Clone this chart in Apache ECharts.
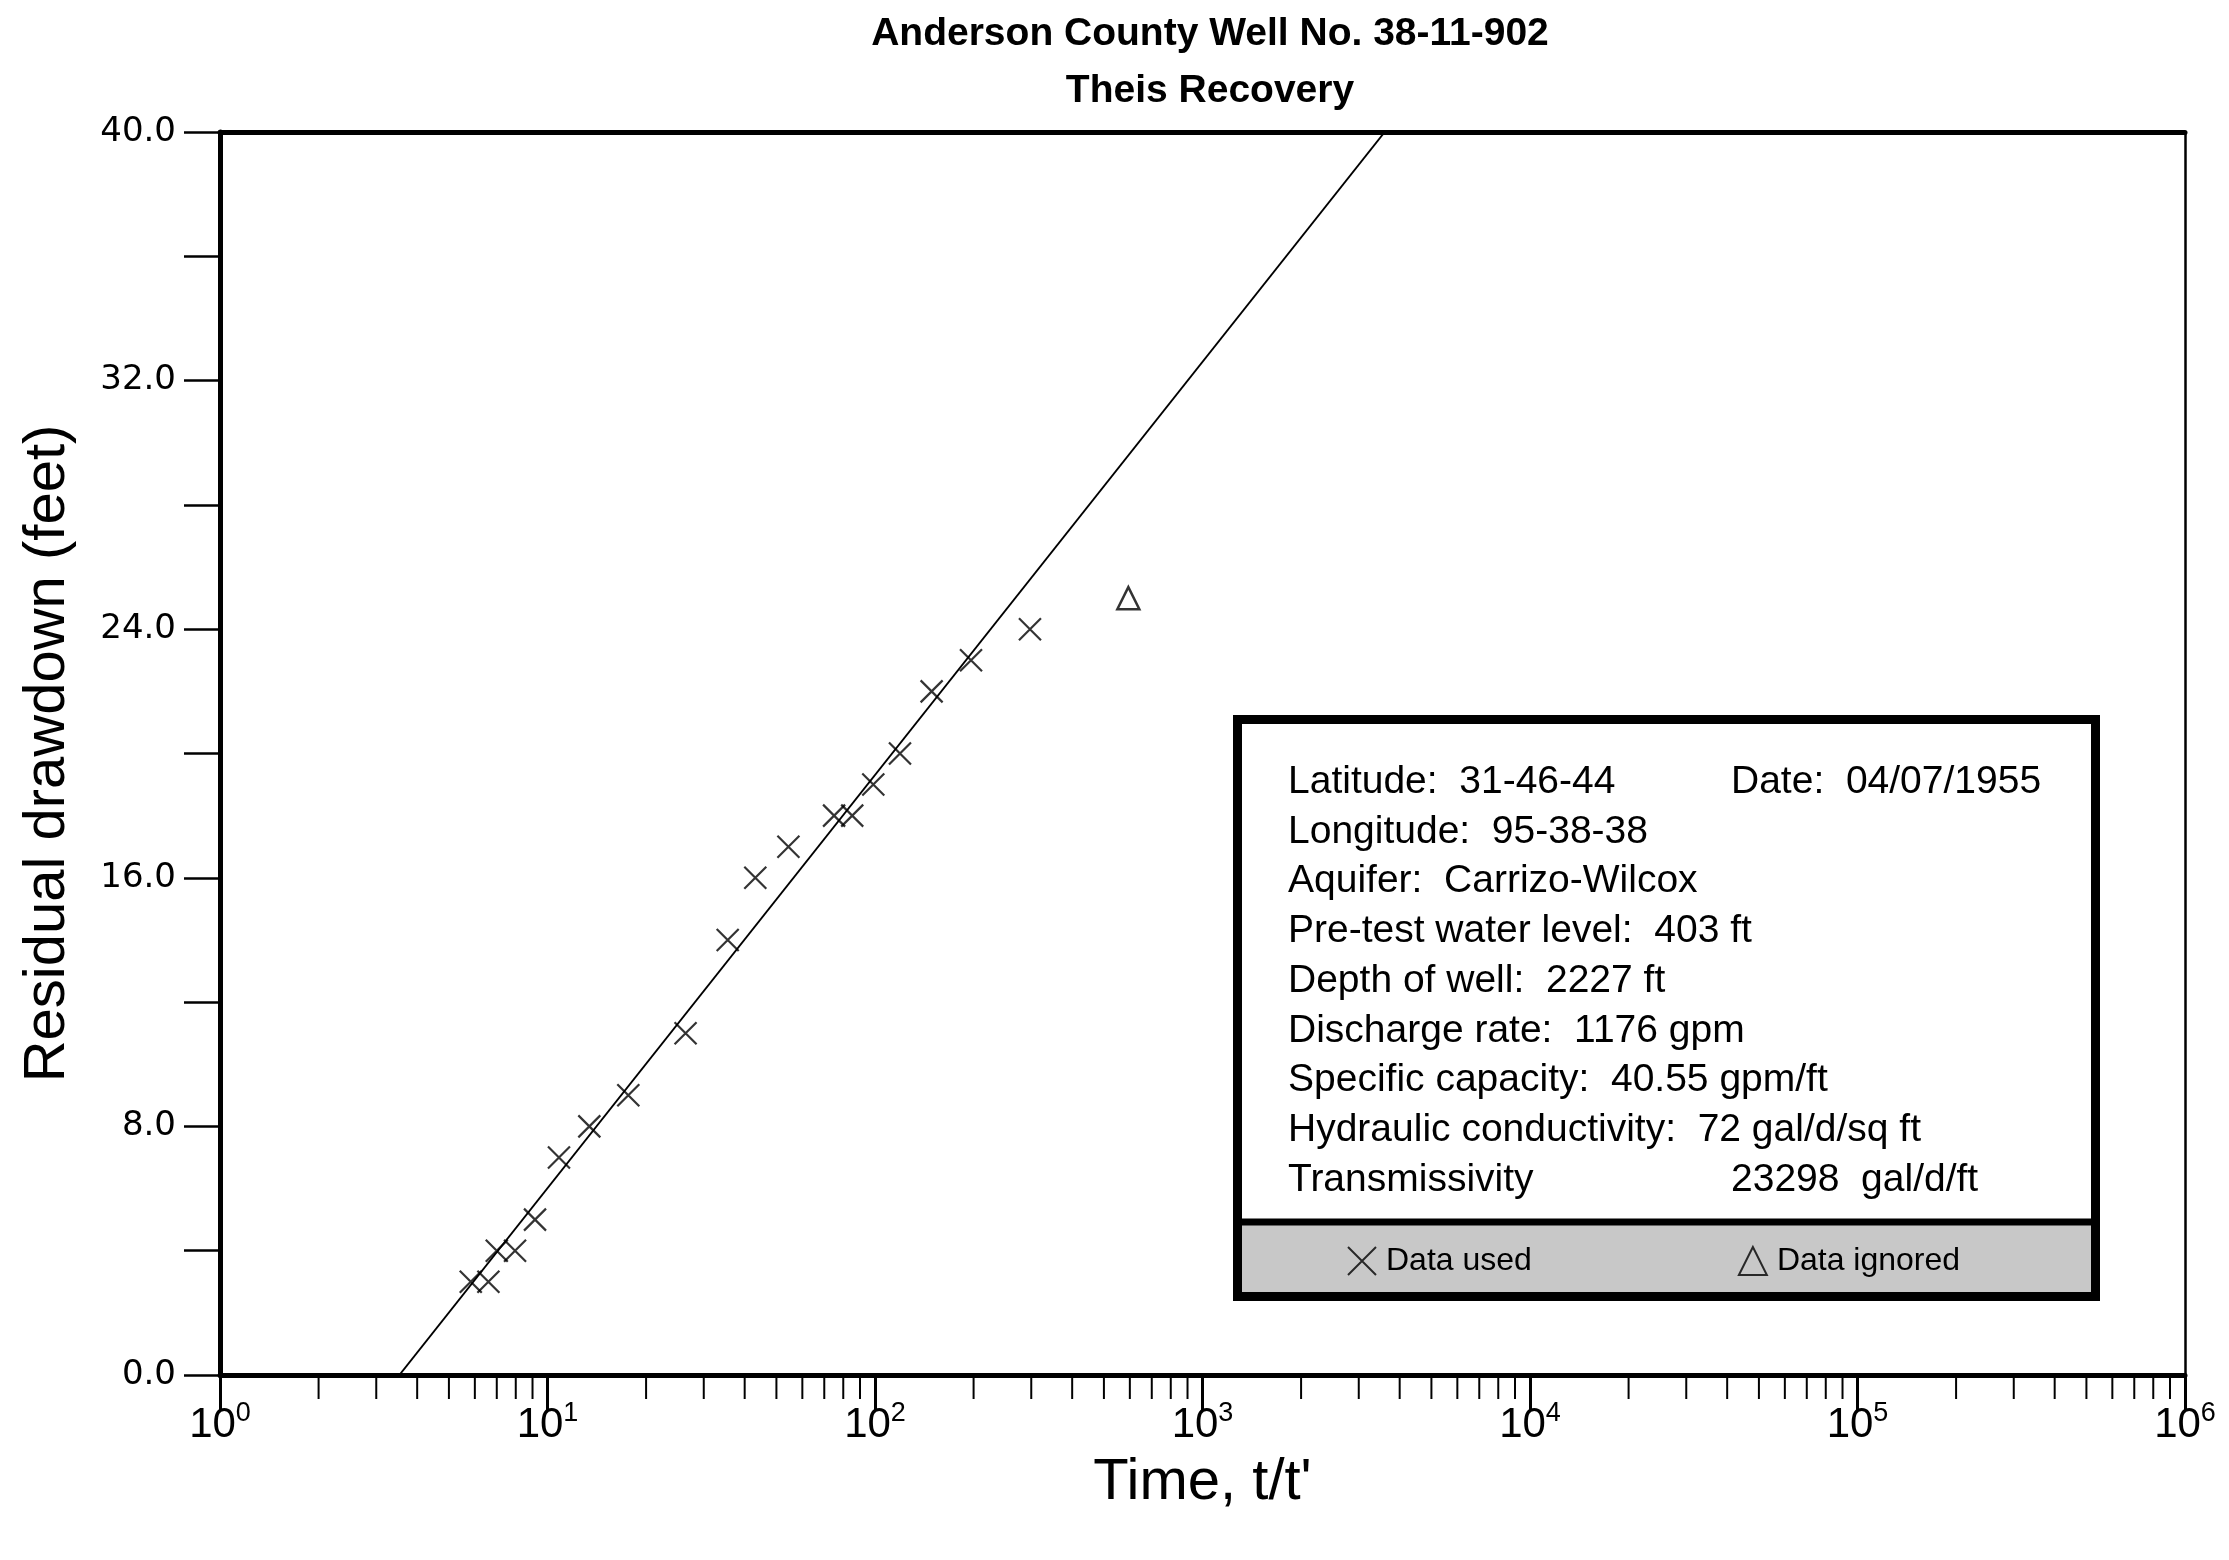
<!DOCTYPE html>
<html>
<head>
<meta charset="utf-8">
<title>Anderson County Well No. 38-11-902 - Theis Recovery</title>
<script src="https://cdn.jsdelivr.net/npm/echarts@6.0.0/dist/echarts.min.js"></script>
<style>
  html, body { margin: 0; padding: 0; background: #fff; }
  #chart { width: 2229px; height: 1560px; }
</style>
</head>
<body>
<div id="chart"></div>
<script>
// t/t' and residual drawdown (feet)
const usedTime = [5.83, 6.60, 7.00, 7.96, 9.16, 10.84, 13.42, 17.65, 26.4, 35.5, 43.1, 54.4, 75.0, 85.2, 98.8, 119.2, 148.9, 196.4, 297.3];
const usedDrawdown = [3, 3, 4, 4, 5, 7, 8, 9, 11, 14, 16, 17, 18, 18, 19, 20, 22, 23, 24];
const ignoredTime = [593.7];
const ignoredDrawdown = [25];

// end points of the straight line fit
const fitTime = [3.53, 3600];
const fitDrawdown = [0, 40];

// log axis: decades and the 2..9 minor ticks inside each
const xDecades = [1, 10, 100, 1000, 10000, 100000];
const minorSteps = [2, 3, 4, 5, 6, 7, 8, 9];

const infoLeft = [
    'Latitude:  31-46-44',
    'Longitude:  95-38-38',
    'Aquifer:  Carrizo-Wilcox',
    'Pre-test water level:  403 ft',
    'Depth of well:  2227 ft',
    'Discharge rate:  1176 gpm',
    'Specific capacity:  40.55 gpm/ft',
    'Hydraulic conductivity:  72 gal/d/sq ft',
    'Transmissivity'
];
const infoRight = ['Date:  04/07/1955', '', '', '', '', '', '', '', '23298  gal/d/ft'];

const FONT = '"Liberation Sans", Arial, Helvetica, sans-serif';
const X_ICON = 'path://M0,0L20,20M20,0L0,20';

var minorTickTimes = [];
xDecades.forEach(function (d) {
    minorSteps.forEach(function (s) { minorTickTimes.push(d * s); });
});

// info box
var boxGraphics = [
    { type: 'rect', z: 3, shape: { x: 1237.5, y: 719.5, width: 858, height: 577 },
      style: { fill: '#fff', stroke: '#000', lineWidth: 9 } },
    { type: 'rect', z: 3, shape: { x: 1242, y: 1225, width: 849, height: 67 },
      style: { fill: '#c8c8c8' } },
    { type: 'line', z: 3, shape: { x1: 1242, y1: 1222, x2: 2091, y2: 1222 },
      style: { stroke: '#000', lineWidth: 7 } }
];
infoLeft.forEach(function (txt, i) {
    boxGraphics.push({
        type: 'text', z: 4,
        style: { text: txt, x: 1288, y: 782 + i * 49.75, font: '39px ' + FONT, fill: '#000',
                 align: 'left', verticalAlign: 'middle', textAlign: 'left', textVerticalAlign: 'middle' }
    });
    if (infoRight[i]) {
        boxGraphics.push({
            type: 'text', z: 4,
            style: { text: infoRight[i], x: 1731, y: 782 + i * 49.75, font: '39px ' + FONT, fill: '#000',
                     align: 'left', verticalAlign: 'middle', textAlign: 'left', textVerticalAlign: 'middle' }
        });
    }
});

var chart = echarts.init(document.getElementById('chart'));
var option = {
    backgroundColor: '#fff',
    animation: false,
    title: {
        text: 'Anderson County Well No. 38-11-902\nTheis Recovery',
        left: 1210, top: 6, textAlign: 'center', padding: 0,
        textStyle: { fontFamily: FONT, fontSize: 39, fontWeight: 'bold', color: '#000', lineHeight: 57 }
    },
    grid: { left: 220, right: 44, top: 132, bottom: 185, containLabel: false, outerBoundsMode: 'none', show: false },
    legend: {
        data: [
            { name: 'Data used', icon: X_ICON, itemStyle: { color: 'transparent', borderColor: '#000', borderWidth: 2 } },
            { name: 'Data ignored', icon: 'triangle', itemStyle: { color: 'transparent', borderColor: '#000', borderWidth: 2 } }
        ],
        left: 1347, top: 1245, itemWidth: 28, itemHeight: 28, itemGap: 206, padding: 0,
        selectedMode: false, z: 10,
        textStyle: { fontFamily: FONT, fontSize: 32, color: '#000', padding: [0, 0, 0, 5] }
    },
    graphic: boxGraphics,
    xAxis: [
        {
            type: 'log', logBase: 10, min: 1, max: 1000000, position: 'bottom',
            name: "Time, t/t'", nameLocation: 'middle', nameGap: 79,
            nameTextStyle: { fontFamily: FONT, fontSize: 58, color: '#000' },
            axisLine: { show: true, onZero: false, lineStyle: { color: '#000', width: 5 } },
            axisTick: { show: true, length: 36, lineStyle: { color: '#000', width: 3 } },
            minorTick: { show: false },
            splitLine: { show: false },
            axisLabel: {
                margin: 25, showMinLabel: true, showMaxLabel: true, hideOverlap: false,
                formatter: function (v) { return '{b|10}{s|' + Math.round(Math.log10(v)) + '}'; },
                rich: {
                    b: { fontFamily: FONT, fontSize: 42, color: '#000', lineHeight: 46, verticalAlign: 'bottom' },
                    s: { fontFamily: FONT, fontSize: 27, color: '#000', lineHeight: 27, verticalAlign: 'top' }
                }
            }
        },
        {
            type: 'log', logBase: 10, min: 1, max: 1000000, position: 'top',
            axisLine: { show: true, onZero: false, lineStyle: { color: '#000', width: 5 } },
            axisTick: { show: false }, axisLabel: { show: false }, splitLine: { show: false }
        }
    ],
    yAxis: [
        {
            type: 'value', min: 0, max: 40, interval: 8, position: 'left',
            name: 'Residual drawdown (feet)', nameLocation: 'middle', nameGap: 143,
            nameTextStyle: { fontFamily: FONT, fontSize: 58, color: '#000' },
            axisLine: { show: true, onZero: false, lineStyle: { color: '#000', width: 5 } },
            axisTick: { show: true, length: 36, lineStyle: { color: '#000', width: 2.5 } },
            minorTick: { show: true, splitNumber: 2, length: 36, lineStyle: { color: '#000', width: 2.5 } },
            splitLine: { show: false },
            axisLabel: {
                margin: 44, color: '#000', fontFamily: '"DejaVu Sans", sans-serif', fontSize: 34,
                formatter: function (v) { return v.toFixed(1); }
            }
        },
        {
            type: 'value', min: 0, max: 40, position: 'right',
            axisLine: { show: true, onZero: false, lineStyle: { color: '#000', width: 2.5 } },
            axisTick: { show: false }, axisLabel: { show: false }, splitLine: { show: false }
        }
    ],
    series: [
        {
            name: 'Theis fit', type: 'line', xAxisIndex: 0, yAxisIndex: 0,
            data: fitTime.map(function (t, i) { return [t, fitDrawdown[i]]; }),
            symbol: 'none', lineStyle: { color: '#000', width: 2 }, z: 2
        },
        {
            name: 'Data used', type: 'scatter', xAxisIndex: 0, yAxisIndex: 0,
            data: usedTime.map(function (t, i) { return [t, usedDrawdown[i]]; }),
            symbol: X_ICON, symbolSize: 22,
            itemStyle: { color: 'transparent', borderColor: '#000', borderWidth: 2.2 }, z: 3
        },
        {
            name: 'Data ignored', type: 'scatter', xAxisIndex: 0, yAxisIndex: 0,
            data: ignoredTime.map(function (t, i) { return [t, ignoredDrawdown[i]]; }),
            symbol: 'triangle', symbolSize: 22,
            itemStyle: { color: 'transparent', borderColor: '#000', borderWidth: 2.5 }, z: 3
        },
        {
            // 2..9 minor ticks under the log axis
            name: 'minor ticks', type: 'custom', xAxisIndex: 0, yAxisIndex: 0,
            silent: true, clip: false,
            data: minorTickTimes.map(function (t) { return [t, 0]; }),
            renderItem: function (params, api) {
                var p = api.coord([api.value(0), api.value(1)]);
                return {
                    type: 'line',
                    shape: { x1: p[0], y1: p[1], x2: p[0], y2: p[1] + 24 },
                    style: { stroke: '#000', lineWidth: 2 }
                };
            }
        }
    ]
};
chart.setOption(option);
</script>
</body>
</html>
